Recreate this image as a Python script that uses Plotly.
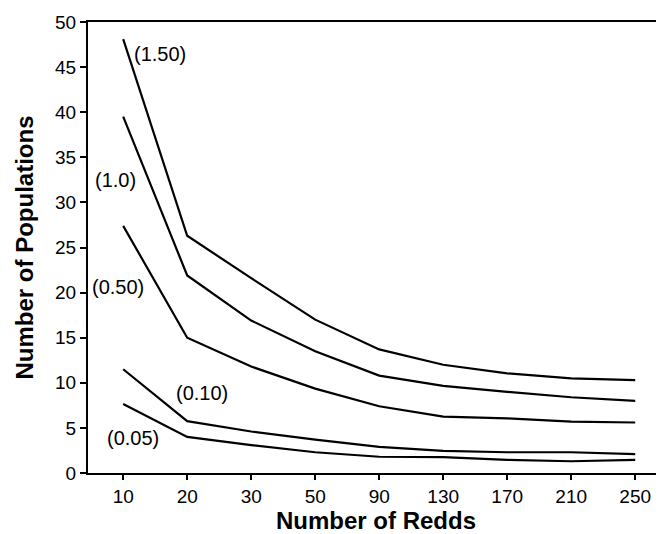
import plotly.graph_objects as go

redds = ["10", "20", "30", "50", "90", "130", "170", "210", "250"]
s150 = [48.1, 26.3, 21.6, 17.0, 13.7, 12.0, 11.05, 10.5, 10.3]
s100 = [39.5, 21.9, 16.9, 13.5, 10.8, 9.65, 9.0, 8.4, 8.0]
s050 = [27.4, 15.0, 11.8, 9.35, 7.4, 6.25, 6.05, 5.7, 5.6]
s010 = [11.5, 5.75, 4.6, 3.7, 2.9, 2.45, 2.3, 2.3, 2.1]
s005 = [7.65, 4.0, 3.1, 2.3, 1.8, 1.75, 1.45, 1.3, 1.45]
series = [("(1.50)", s150), ("(1.0)", s100), ("(0.50)", s050), ("(0.10)", s010), ("(0.05)", s005)]

label_text = ["(1.50)", "(1.0)", "(0.50)", "(0.10)", "(0.05)"]
label_x = [0.58, -0.12, -0.08, 1.23, 0.16]
label_y = [46.4, 32.5, 20.6, 8.9, 3.9]

FONT = "Liberation Sans, Arial, Helvetica"

fig = go.Figure()
for name, vals in series:
    fig.add_trace(go.Scatter(x=list(range(len(redds))), y=vals, mode="lines",
                             line=dict(color="black", width=2.2), name=name,
                             showlegend=False))

for t, x, y in zip(label_text, label_x, label_y):
    fig.add_annotation(x=x, y=y, text=t, showarrow=False,
                       font=dict(size=20, color="black", family=FONT))

# page has an 8px body margin, so the figure is 8px smaller than the window
fig.update_layout(
    width=656, height=526,
    margin=dict(l=80, r=0, t=14, b=61, autoexpand=False),
    paper_bgcolor="white", plot_bgcolor="white",
    font=dict(family=FONT, color="black", size=19),
)
fig.update_xaxes(
    range=[-0.55, 8.45], tickmode="array", tickvals=list(range(len(redds))), ticktext=redds,
    showline=True, linecolor="black", linewidth=2, mirror=True,
    ticks="outside", ticklen=5, tickwidth=1.5, tickcolor="black",
    showgrid=False, zeroline=False, automargin=False,
    title=dict(text="<b>Number of Redds</b>", font=dict(size=24), standoff=3),
    tickfont=dict(size=19),
)
fig.update_yaxes(
    range=[0, 50], tickvals=[0, 5, 10, 15, 20, 25, 30, 35, 40, 45, 50],
    showline=True, linecolor="black", linewidth=2,
    ticks="outside", ticklen=6, tickwidth=1.5, tickcolor="black",
    showgrid=False, zeroline=False, automargin=False,
    title=dict(text="<b>Number of Populations</b>", font=dict(size=24), standoff=15),
    tickfont=dict(size=19),
)

fig.write_html("out.html")
